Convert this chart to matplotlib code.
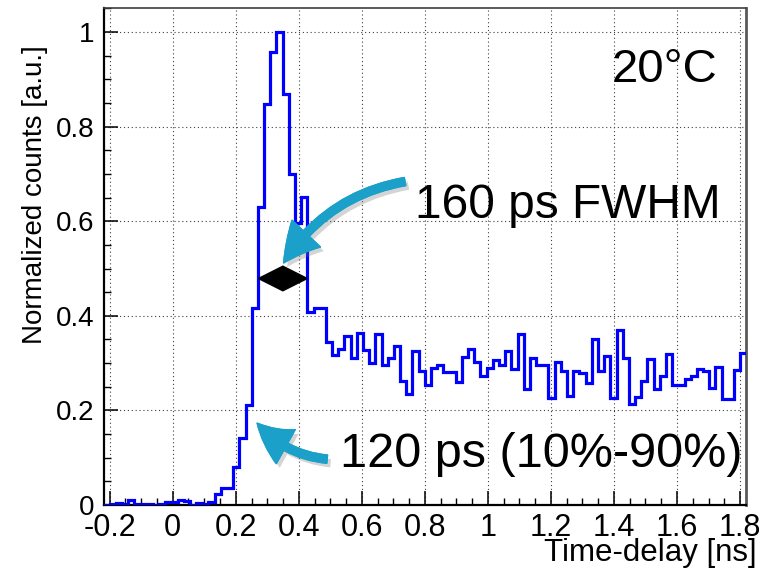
import numpy as np
import matplotlib
matplotlib.use("Agg")
import matplotlib.pyplot as plt
from matplotlib.patches import FancyArrowPatch, Polygon
from matplotlib.ticker import MultipleLocator
from matplotlib import font_manager
import matplotlib.patheffects as pe

plt.rcParams['font.family'] = ['Liberation Sans', 'DejaVu Sans']

# ---- data ----
x_min, x_max = -0.22, 1.82
n_bins = 104
counts = [0.0, 0.003, 0.004, 0.002, 0.011, 0.003, 0.002, 0.002, 0.0, 0.002,
          0.006, 0.006, 0.011, 0.008, 0.001, 0.005, 0.003, 0.007, 0.023, 0.037,
          0.037, 0.08, 0.142, 0.211, 0.417, 0.631, 0.848, 0.957, 1.0, 0.869,
          0.701, 0.597, 0.652, 0.409, 0.416, 0.416, 0.344, 0.317, 0.329, 0.357,
          0.310, 0.364, 0.328, 0.300, 0.361, 0.296, 0.310, 0.337, 0.262, 0.235,
          0.326, 0.284, 0.254, 0.289, 0.296, 0.282, 0.282, 0.261, 0.314, 0.329,
          0.303, 0.273, 0.289, 0.307, 0.296, 0.326, 0.288, 0.361, 0.245, 0.311,
          0.296, 0.296, 0.226, 0.303, 0.284, 0.231, 0.283, 0.279, 0.259, 0.352,
          0.284, 0.315, 0.227, 0.371, 0.311, 0.214, 0.228, 0.263, 0.308, 0.245,
          0.273, 0.319, 0.254, 0.254, 0.266, 0.273, 0.288, 0.284, 0.247, 0.291,
          0.224, 0.224, 0.285, 0.322]
x_ticks = [-0.2, 0, 0.2, 0.4, 0.6, 0.8, 1, 1.2, 1.4, 1.6, 1.8]
x_tick_labels = ["-0.2", "0", "0.2", "0.4", "0.6", "0.8", "1", "1.2", "1.4", "1.6", "1.8"]
y_ticks = [0, 0.2, 0.4, 0.6, 0.8, 1]
y_tick_labels = ["0", "0.2", "0.4", "0.6", "0.8", "1"]
fwhm_left, fwhm_right, fwhm_level = 0.272, 0.427, 0.479
temperature_label = "20°C"
fwhm_label = "160 ps FWHM"
rise_label = "120 ps (10%-90%)"

edges = np.linspace(x_min, x_max, n_bins + 1)

# narrow font for x tick labels if available
xtick_family = ['Liberation Sans']
xtick_size = 22
try:
    font_manager.findfont(font_manager.FontProperties(family='Liberation Sans Narrow'),
                          fallback_to_default=False)
    xtick_family = ['Liberation Sans Narrow', 'Liberation Sans']
    xtick_size = 25
except Exception:
    pass

fig = plt.figure(figsize=(7.76, 5.70), dpi=100)
ax = fig.add_axes([104/776, 1-505/570, (745.7-104)/776, (505-8)/570])
ax.set_xlim(-0.218, 1.818)
ax.set_ylim(0, 1.051)

ax.grid(True, which='major', color='0.25', linestyle=(0, (1, 2.5)), linewidth=0.8)
ax.set_axisbelow(True)

ax.stairs(counts, edges, color='#0000ff', linewidth=2.3, baseline=None, zorder=3)

# FWHM diamond
mid = 0.5 * (fwhm_left + fwhm_right)
half_h = 0.026
ax.add_patch(Polygon([[fwhm_left, fwhm_level], [mid, fwhm_level + half_h],
                      [fwhm_right, fwhm_level], [mid, fwhm_level - half_h]],
                     closed=True, facecolor='black', edgecolor='black', zorder=5))

arrow_col = '#1ba0c9'
shadow = [pe.withSimplePatchShadow(offset=(2.5, -3), shadow_rgbFace='0.45', alpha=0.3), pe.Normal()]
style = "simple,head_length=1.9,head_width=2.0,tail_width=0.42"
a1 = FancyArrowPatch((0.737, 0.684), (0.352, 0.512), connectionstyle="arc3,rad=0.22",
                     arrowstyle=style, mutation_scale=14, color=arrow_col, zorder=6,
                     path_effects=shadow, shrinkA=0, shrinkB=0)
ax.add_patch(a1)
a2 = FancyArrowPatch((0.490, 0.097), (0.268, 0.173), connectionstyle="arc3,rad=-0.2",
                     arrowstyle=style, mutation_scale=14, color=arrow_col, zorder=6,
                     path_effects=shadow, shrinkA=0, shrinkB=0)
ax.add_patch(a2)

ax.text(1.394, 0.92, temperature_label, fontsize=34, ha='left', va='center', zorder=7)
ax.text(0.769, 0.634, fwhm_label, fontsize=34.5, ha='left', va='center', zorder=7)
ax.text(0.531, 0.106, rise_label, fontsize=35, ha='left', va='center', zorder=7)

ax.set_xticks(x_ticks)
ax.set_xticklabels(x_tick_labels, fontsize=xtick_size, family=xtick_family)
ax.set_yticks(y_ticks)
ax.set_yticklabels(y_tick_labels, fontsize=20)
ax.xaxis.set_minor_locator(MultipleLocator(0.05))
ax.yaxis.set_minor_locator(MultipleLocator(0.05))
ax.tick_params(which='both', direction='in', top=False, right=False)
ax.tick_params(which='major', length=10, width=1.1)
ax.tick_params(which='minor', length=5, width=1.0)
ax.tick_params(axis='x', pad=6)
ax.tick_params(axis='y', pad=7)

for s in ['left', 'bottom']:
    ax.spines[s].set_linewidth(1.6)
    ax.spines[s].set_color('black')
ax.spines['top'].set_linewidth(1.2)
ax.spines['top'].set_color('0.25')
ax.spines['right'].set_linewidth(2.0)
ax.spines['right'].set_color('0.35')

fig.text(35/776, 1-195/570, "Normalized counts [a.u.]", rotation=90, fontsize=20,
         ha='center', va='center')
fig.text(757/776, 0.003, "Time-delay [ns]", fontsize=22.5, ha='right', va='bottom')

fig.savefig("out.png", dpi=100)
